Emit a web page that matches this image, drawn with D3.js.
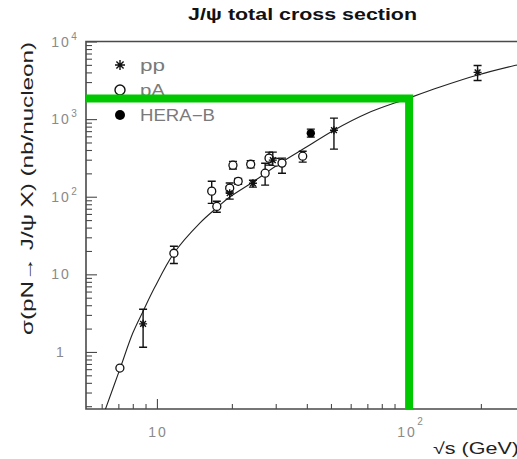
<!DOCTYPE html>
<html><head><meta charset="utf-8">
<script src="https://cdn.jsdelivr.net/npm/d3@7"></script>
<style>body{margin:0;background:#fff;overflow:hidden} svg{display:block}</style>
</head><body><svg id="c" width="517" height="459"></svg>
<script>
// ---------- data ----------
const titleText = "J/ψ total cross section";
const yTitleText = "σ(pN→ J/ψ X) (nb/nucleon)";
const xTitleText = "√s (GeV)";
const legendLabels = ["pp", "pA", "HERA−B"];

const yTickValues = [1, 10, 100, 1000, 10000];
const yTickBase = ["1", "10", "10", "10", "10"];
const yTickSup = ["", "", "2", "3", "4"];
const xTickValues = [10, 100];
const xTickBase = ["10", "10"];
const xTickSup = ["", "2"];

// pp (asterisks): sqrt(s) [GeV], sigma [nb/nucleon], error low, error high
const ppSqrtS = [8.8, 19.6, 24.3, 29.2, 51.4, 194];
const ppSigma = [2.3, 111, 149, 296, 720, 4000];
const ppLow   = [1.15, 93, 133, 255, 410, 3150];
const ppHigh  = [3.55, 136, 163, 375, 1030, 4900];

// pA (open circles)
const pASqrtS = [7.1, 11.7, 16.6, 17.4, 19.6, 20.2, 21.2, 23.8, 27.2, 28.2, 30.1, 31.8, 38.5];
const pASigma = [0.62, 18.7, 118, 75, 129, 255, 158, 262, 201, 314, 279, 271, 333];
const pALow   = [null, 13.8, 82, 63, 115, 228, 145, 235, 141, 255, 255, 201, 279];
const pAHigh  = [null, 23, 158, 87.5, 150, 285, 172, 292, 270, 375, 305, 314, 386];

// HERA-B (filled circle)
const hbSqrtS = [41.5];
const hbSigma = [659];
const hbLow   = [586];
const hbHigh  = [743];

// fitted curve
const curveSqrtS = [6.2, 7.1, 8.0, 8.8, 9.8, 11.7, 14.9, 17.4, 19.6, 24.3, 31.2, 40, 51.4, 70, 100, 137, 194, 279, 320];
const curveSigma = [0.18, 0.6, 1.75, 3.35, 6.8, 18.7, 46, 72, 99, 155, 270, 440, 720, 1190, 1810, 2590, 3700, 4980, 5500];

// highlighted reading (green)
const markSqrtS = [103];
const markSigma = [1840];

// ---------- layout ----------
const L = 86, R = 530, T = 41.5, B = 409;
const svg = d3.select("#c");
const x = d3.scaleLog().domain([5.19, 315]).range([L, R]);
const y = d3.scaleLog().domain([0.184, 10000]).range([B, T]);
const FONT = "'Liberation Sans', Arial, Helvetica, sans-serif";

svg.append("defs").append("clipPath").attr("id", "clip")
  .append("rect").attr("x", L).attr("y", T).attr("width", R - L).attr("height", B - T);

// minor tick values
const yMinor = [];
for (let e = -1; e <= 3; e++) for (let m = 2; m <= 9; m++) { const v = m * Math.pow(10, e); if (v >= 0.184 && v <= 10000) yMinor.push(v); }
const xMinor = [];
for (let e = 0; e <= 2; e++) for (let m = 2; m <= 9; m++) { const v = m * Math.pow(10, e); if (v >= 5.19 && v <= 315) xMinor.push(v); }

const axColor = "#4a4a4a";
function styleAxis(g) {
  g.selectAll(".domain").remove();
  g.selectAll(".tick line").attr("stroke", axColor).attr("stroke-width", 1.1);
  g.selectAll(".tick text").remove();
}
svg.append("g").attr("transform", `translate(${L},0)`)
  .call(d3.axisRight(y).tickValues(yTickValues).tickSize(11).tickFormat("")).call(styleAxis);
svg.append("g").attr("transform", `translate(${L},0)`)
  .call(d3.axisRight(y).tickValues(yMinor).tickSize(6).tickFormat("")).call(styleAxis);
svg.append("g").attr("transform", `translate(0,${B})`)
  .call(d3.axisTop(x).tickValues(xTickValues).tickSize(10).tickFormat("")).call(styleAxis);
svg.append("g").attr("transform", `translate(0,${B})`)
  .call(d3.axisTop(x).tickValues(xMinor).tickSize(5).tickFormat("")).call(styleAxis);

// frame
svg.append("path").attr("d", `M${R},${T}H${L}V${B}H${R}`)
  .attr("fill", "none").attr("stroke", axColor).attr("stroke-width", 1.6);

// tick labels
const labColor = "#8a8a8a";
yTickValues.forEach((v, i) => {
  const t = svg.append("text").attr("x", 61).attr("y", y(v) + 5)
    .attr("text-anchor", "middle").attr("font-family", FONT).attr("font-size", 14)
    .attr("letter-spacing", "2px").attr("fill", labColor).text(yTickBase[i]);
  if (yTickSup[i]) {
    const w = t.node().getComputedTextLength();
    svg.append("text").attr("x", 61 + w / 2 + 0.5).attr("y", y(v) - 2)
      .attr("font-family", FONT).attr("font-size", 10).attr("fill", labColor).text(yTickSup[i]);
  }
});
xTickValues.forEach((v, i) => {
  const cx = x(v) + 1;
  const t = svg.append("text").attr("x", cx).attr("y", 437)
    .attr("text-anchor", "middle").attr("font-family", FONT).attr("font-size", 14)
    .attr("letter-spacing", "2px").attr("fill", labColor).text(xTickBase[i]);
  if (xTickSup[i]) {
    const w = t.node().getComputedTextLength();
    svg.append("text").attr("x", cx + w / 2 + 0.5).attr("y", 425)
      .attr("font-family", FONT).attr("font-size", 10).attr("fill", labColor).text(xTickSup[i]);
  }
});

// titles
svg.append("text").attr("x", 188).attr("y", 20).attr("font-family", FONT)
  .attr("font-weight", "bold").attr("font-size", 17).attr("fill", "#111")
  .attr("textLength", 229).attr("lengthAdjust", "spacingAndGlyphs").text(titleText);
svg.append("text").attr("transform", "translate(33,335) rotate(-90)")
  .attr("font-family", FONT).attr("font-size", 16).attr("fill", "#222")
  .attr("textLength", 293).attr("lengthAdjust", "spacingAndGlyphs").text(yTitleText);
svg.append("text").attr("x", 433).attr("y", 454).attr("font-family", FONT)
  .attr("font-size", 16).attr("fill", "#222")
  .attr("textLength", 86).attr("lengthAdjust", "spacingAndGlyphs").text(xTitleText);

// markers
function star(g, cx, cy, r) {
  const p = d3.path();
  p.moveTo(cx, cy - r); p.lineTo(cx, cy + r);
  p.moveTo(cx - r, cy); p.lineTo(cx + r, cy);
  const d = r * 0.72;
  p.moveTo(cx - d, cy - d); p.lineTo(cx + d, cy + d);
  p.moveTo(cx - d, cy + d); p.lineTo(cx + d, cy - d);
  g.append("path").attr("d", p.toString()).attr("stroke", "#111").attr("stroke-width", 1.4).attr("fill", "none");
}
function errBar(g, xs, lo, hi) {
  const cw = 4;
  const p = d3.path();
  p.moveTo(xs, y(lo)); p.lineTo(xs, y(hi));
  p.moveTo(xs - cw, y(lo)); p.lineTo(xs + cw, y(lo));
  p.moveTo(xs - cw, y(hi)); p.lineTo(xs + cw, y(hi));
  g.append("path").attr("d", p.toString()).attr("stroke", "#111").attr("stroke-width", 1.4).attr("fill", "none");
}

const plot = svg.append("g").attr("clip-path", "url(#clip)");

// curve
const line = d3.line().x(d => x(d[0])).y(d => y(d[1])).curve(d3.curveCatmullRom);
plot.append("path").datum(curveSqrtS.map((s, i) => [s, curveSigma[i]]))
  .attr("d", line).attr("fill", "none").attr("stroke", "#222").attr("stroke-width", 1.1);

// error bars
pASqrtS.forEach((s, i) => { if (pALow[i] != null) errBar(plot, x(s), pALow[i], pAHigh[i]); });
ppSqrtS.forEach((s, i) => errBar(plot, x(s), ppLow[i], ppHigh[i]));
hbSqrtS.forEach((s, i) => errBar(plot, x(s), hbLow[i], hbHigh[i]));

// points
pASqrtS.forEach((s, i) => plot.append("circle").attr("cx", x(s)).attr("cy", y(pASigma[i])).attr("r", 4)
  .attr("fill", "#fff").attr("stroke", "#111").attr("stroke-width", 1.3));
ppSqrtS.forEach((s, i) => star(plot, x(s), y(ppSigma[i]), 4));
hbSqrtS.forEach((s, i) => plot.append("circle").attr("cx", x(s)).attr("cy", y(hbSigma[i])).attr("r", 4.2).attr("fill", "#000"));

// legend
const lg = svg.append("g");
star(lg, 120, 65, 5);
lg.append("circle").attr("cx", 120).attr("cy", 90).attr("r", 5).attr("fill", "#fff").attr("stroke", "#111").attr("stroke-width", 1.4);
lg.append("circle").attr("cx", 120).attr("cy", 115).attr("r", 5).attr("fill", "#000");
const legW = [25, 25, 75];
legendLabels.forEach((t, i) => lg.append("text").attr("x", 140).attr("y", 71 + i * 25)
  .attr("font-family", FONT).attr("font-size", 16).attr("fill", "#7a7a7a")
  .attr("textLength", legW[i]).attr("lengthAdjust", "spacingAndGlyphs").text(t));

// green highlight
svg.append("path")
  .attr("d", `M${L},${y(markSigma[0])}H${x(markSqrtS[0])}V${B}`)
  .attr("fill", "none").attr("stroke", "#00c800").attr("stroke-width", 8)
  .attr("stroke-linejoin", "miter");
</script></body></html>
